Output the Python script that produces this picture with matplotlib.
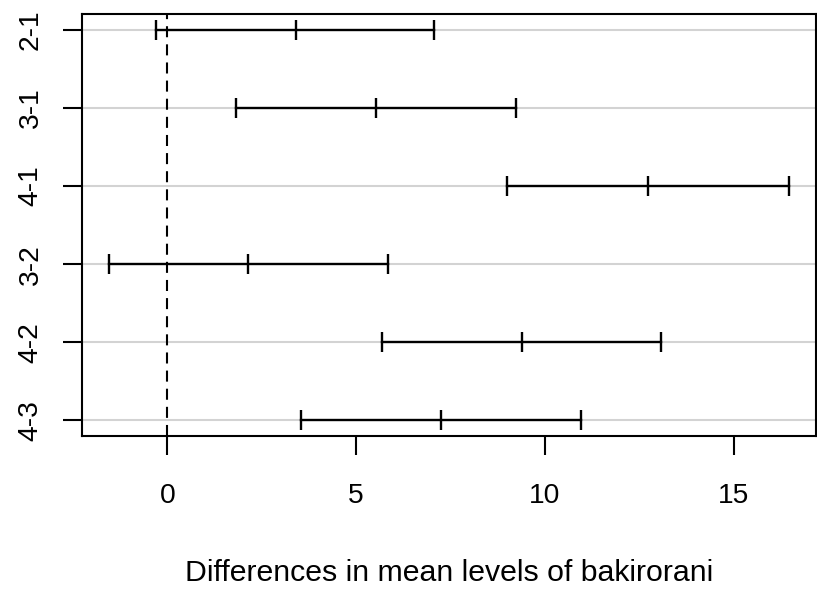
import numpy as np
from matplotlib import pyplot as plt

plt.rcParams['font.family'] = ['Liberation Sans', 'DejaVu Sans']

comparisons = ['2-1', '3-1', '4-1', '3-2', '4-2', '4-3']
diff = [3.41, 5.52, 12.73, 2.14, 9.39, 7.24]
lower = [-0.31, 1.82, 9.00, -1.54, 5.69, 3.54]
upper = [7.07, 9.22, 16.45, 5.84, 13.07, 10.95]

n = len(comparisons)
yvals = np.arange(n, 0, -1)

fig = plt.figure(figsize=(8.17, 5.92), dpi=100)
ax = fig.add_axes([0.1004, 0.2635, 0.898, 0.7125])

# light grid at each comparison
for y in yvals:
    ax.axhline(y, color='#d3d3d3', lw=1.5, zorder=0)
ax.axvline(0, color='black', lw=1.5, ls=(0, (5.3, 3.4)), zorder=1)

for y, lo, mid, hi in zip(yvals, lower, diff, upper):
    ax.plot([lo, hi], [y, y], color='black', lw=1.7, zorder=2)
    ax.plot([lo, mid, hi], [y, y, y], ls='none', marker='|',
            markersize=14.4, mew=1.7, color='black', zorder=3)

xr = max(upper) - min(lower)
ax.set_xlim(min(lower) - 0.04 * xr, max(upper) + 0.04 * xr)
ax.set_ylim(0.8, 6.2)
ax.set_xticks([0, 5, 10, 15])
ax.set_yticks(yvals)
ax.set_yticklabels(comparisons, rotation=90, va='center')
ax.tick_params(axis='both', direction='out', length=13.5, width=1.5,
               labelsize=20.3, colors='black')
ax.tick_params(axis='x', pad=20)
ax.tick_params(axis='y', pad=14)
for s in ax.spines.values():
    s.set_linewidth(1.5)

ax.set_xlabel('Differences in mean levels of bakirorani', fontsize=21.8,
              labelpad=36)

fig.savefig('out.png', dpi=100)
